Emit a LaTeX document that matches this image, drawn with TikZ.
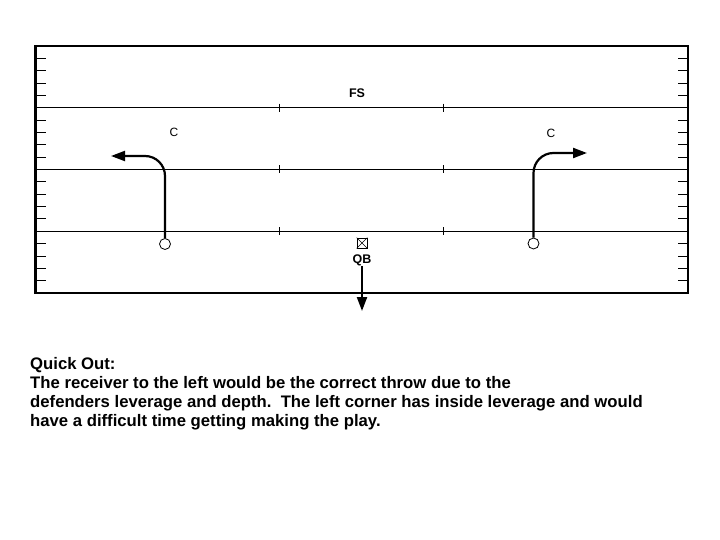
\documentclass[tikz,border=0pt]{standalone}
\usepackage{fontspec}
\setmainfont{Liberation Sans}
\usetikzlibrary{positioning,arrows.meta,calc}
\tikzset{
    player/.style={
        circle,
        draw=black,
        line width=0.8pt,
        minimum size=11pt,
        inner sep=0pt
    },
    passer/.style={
        rectangle,
        draw=black,
        line width=0.6pt,
        minimum size=10pt,
        inner sep=0pt
    },
    poslabel/.style={
        inner sep=0pt,
        font=\fontsize{12}{13}\selectfont
    },
    boldlabel/.style={
        inner sep=0pt,
        font=\fontsize{12.5}{14}\selectfont\bfseries
    },
    route/.style={
        line width=2.2pt,
        rounded corners=20pt,
        -{Triangle[length=14pt,width=10pt]}
    },
    yardline/.style={line width=1.2pt},
    hashmark/.style={line width=0.8pt}
}

\begin{document}
\begin{tikzpicture}[x=1pt,y=-1pt]
\useasboundingbox (0,0) rectangle (720,540);

% Field
\draw[line width=2.5pt] (35.5,46) rectangle (688,293);
\foreach \k in {1,2,3,4,6,7,8,9,11,12,13,14,16,17,18,19} {
    \draw[hashmark] (36,{46+12.35*\k}) -- (46,{46+12.35*\k});
    \draw[hashmark] (678,{46+12.35*\k}) -- (688,{46+12.35*\k});
}
\foreach \k in {5,10,15} {
    \draw[yardline] (35.5,{46+12.35*\k}) -- (688,{46+12.35*\k});
    \draw[hashmark] (279.5,{42+12.35*\k}) -- (279.5,{50+12.35*\k});
    \draw[hashmark] (443.5,{42+12.35*\k}) -- (443.5,{50+12.35*\k});
}

% Defense
\node[boldlabel] (fs) at (357,93) {FS};
\node[poslabel] (cbL) at (174,132) {C};
\node[poslabel] (cbR) at (551,133) {C};

% Quarterback
\node[passer] (qb) at (362,243) {};
\draw[line width=0.6pt] (qb.north west) -- (qb.south east) (qb.north east) -- (qb.south west);
\node[boldlabel, below=6pt of qb] (qbtext) {QB};
\coordinate (qbdrop) at (362,311);
\draw[route] (qbtext.south) -- (qbdrop);

% Receivers
\node[player] (wrL) at (165,244) {};
\coordinate (wrLbreak) at (165,156);
\coordinate (wrLend) at (111,156);
\draw[route] (wrL.north) -- (wrLbreak) -- (wrLend);

\node[player] (wrR) at (533.5,243.5) {};
\coordinate (wrRbreak) at (533.5,153);
\coordinate (wrRend) at (587,153);
\draw[route] (wrR.north) -- (wrRbreak) -- (wrRend);

% Notes
\node[anchor=north west, inner sep=0pt, align=left,
      font=\fontsize{16.7}{19.2}\selectfont\bfseries] (notes) at (30,357) {
    Quick Out:\\
    The receiver to the left would be the correct throw due to the\\
    defenders leverage and depth.\ \ The left corner has inside leverage and would\\
    have a difficult time getting making the play.
};
\end{tikzpicture}
\end{document}
